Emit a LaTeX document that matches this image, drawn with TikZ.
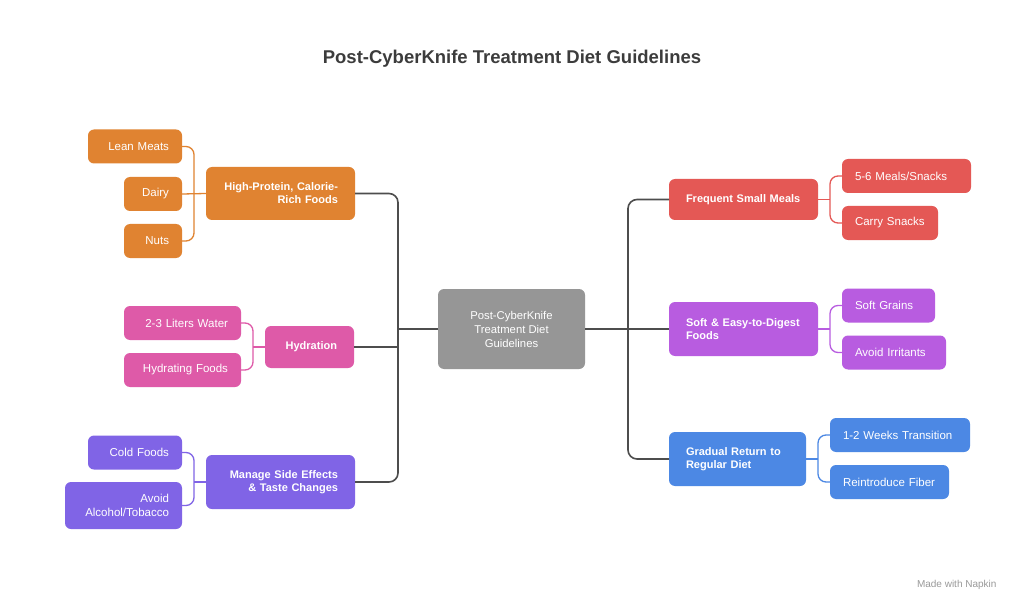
\documentclass[tikz,border=0pt]{standalone}
\usepackage{fontspec}
\setmainfont{Liberation Sans}
\usepackage{tikz}
\usetikzlibrary{positioning}

\definecolor{protein}{HTML}{E08331}
\definecolor{hydra}{HTML}{DE5AA8}
\definecolor{sidefx}{HTML}{8064E6}
\definecolor{meals}{HTML}{E45855}
\definecolor{soft}{HTML}{B85CE0}
\definecolor{gradual}{HTML}{4C88E4}
\definecolor{hubgray}{HTML}{969696}
\definecolor{trunkgray}{HTML}{4D4D4D}
\definecolor{titlegray}{HTML}{3C3C3C}

\begin{document}
\begin{tikzpicture}[x=1pt, y=-1pt]

\tikzstyle{box}=[rounded corners=6pt, text=white, outer sep=0pt, inner ysep=2pt]
\tikzstyle{topic}=[box, font=\bfseries\fontsize{11}{13}\selectfont, inner xsep=17pt]
\tikzstyle{leaf}=[box, font=\fontsize{11.5}{13.5}\selectfont, inner xsep=13pt, minimum height=34pt]
\tikzstyle{leftleaf}=[leaf, anchor=east, align=right]
\tikzstyle{rightleaf}=[leaf, anchor=west, align=left]
\tikzstyle{trunk}=[draw=trunkgray, line width=1.6pt, rounded corners=9pt]
\tikzstyle{twig}=[line width=1.3pt, rounded corners=8pt]

\useasboundingbox (0,0) rectangle (1024,612);
\fill[white] (0,0) rectangle (1024,612);

\node[font=\bfseries\fontsize{18.5}{22}\selectfont, text=titlegray] (title) at (512,59) {Post-CyberKnife Treatment Diet Guidelines};

\node[box, fill=hubgray, minimum width=147pt, minimum height=80pt, align=center, font=\fontsize{11.3}{14}\selectfont] (hub) at (511.5,329) {Post-CyberKnife\\Treatment Diet\\Guidelines};

% left topics
\node[topic, fill=protein, text width=115pt, align=right, minimum height=53pt] (protein) at (280.5,193.5) {High-Protein, Calorie-\\Rich Foods};
\node[topic, fill=hydra, text width=55pt, align=right, minimum height=42pt] (hydra) at (309.5,347) {Hydration};
\node[topic, fill=sidefx, text width=115pt, align=right, minimum height=54pt] (sidefx) at (280.5,482) {Manage Side Effects\\\& Taste Changes};

% right topics
\node[topic, fill=meals, text width=115pt, align=left, minimum height=41pt] (meals) at (743.5,199.5) {Frequent Small Meals};
\node[topic, fill=soft, text width=115pt, align=left, minimum height=54pt] (soft) at (743.5,329) {Soft \& Easy-to-Digest\\Foods};
\node[topic, fill=gradual, text width=103pt, align=left, minimum height=54pt] (gradual) at (737.5,459) {Gradual Return to\\Regular Diet};

% left leaves
\node[leftleaf, fill=protein, text width=68pt] (lean) at (182,146.5) {Lean Meats};
\node[leftleaf, fill=protein, text width=32pt] (dairy) at (182,194) {Dairy};
\node[leftleaf, fill=protein, text width=32pt] (nuts) at (182,241) {Nuts};
\node[leftleaf, fill=hydra, text width=91pt] (water) at (241,323) {2-3 Liters Water};
\node[leftleaf, fill=hydra, text width=91pt] (hydfood) at (241,370) {Hydrating Foods};
\node[leftleaf, fill=sidefx, text width=68pt] (cold) at (182,452.5) {Cold Foods};
\node[leftleaf, fill=sidefx, text width=91pt, minimum height=47pt] (alcohol) at (182,505.5) {Avoid\\Alcohol/Tobacco};

% right leaves
\node[rightleaf, fill=meals, text width=103pt] (fivesix) at (842,176) {5-6 Meals/Snacks};
\node[rightleaf, fill=meals, text width=70pt] (carry) at (842,223) {Carry Snacks};
\node[rightleaf, fill=soft, text width=67pt] (grains) at (842,305.5) {Soft Grains};
\node[rightleaf, fill=soft, text width=78pt] (irritants) at (842,352.5) {Avoid Irritants};
\node[rightleaf, fill=gradual, text width=114pt] (weeks) at (830,435) {1-2 Weeks Transition};
\node[rightleaf, fill=gradual, text width=93pt] (fiber) at (830,482) {Reintroduce Fiber};

\node[text=black!40, font=\fontsize{10}{12}\selectfont, anchor=east] (brand) at (1000,585) {Made with Napkin};

% trunks
\coordinate (lefttrunk) at (398,329);
\coordinate (righttrunk) at (628,329);
\draw[trunk] (protein.east) -| (lefttrunk) |- (sidefx.east);
\draw[trunk] (hydra.east) -- (hydra.east -| lefttrunk);
\draw[trunk] (hub.west) -- (lefttrunk);
\draw[trunk] (meals.west) -| (righttrunk) |- (gradual.west);
\draw[trunk] (hub.east) -- (soft.west);

% brackets
\draw[twig, protein] (lean.east) -| ([xshift=12pt]nuts.east) -- (nuts.east);
\draw[twig, protein] (dairy.east) -- (protein.west);
\draw[twig, hydra] (water.east) -| ([xshift=12pt]hydfood.east) -- (hydfood.east);
\draw[twig, hydra] (hydra.west) -- ++(-12,0);
\draw[twig, sidefx] (cold.east) -| ([xshift=12pt]alcohol.east) -- (alcohol.east);
\draw[twig, sidefx] (sidefx.west) -- ++(-12,0);
\draw[twig, meals] (fivesix.west) -| ([xshift=-12pt]carry.west) -- (carry.west);
\draw[twig, meals] (meals.east) -- ++(12,0);
\draw[twig, soft] (grains.west) -| ([xshift=-12pt]irritants.west) -- (irritants.west);
\draw[twig, soft] (soft.east) -- ++(12,0);
\draw[twig, gradual] (weeks.west) -| ([xshift=-12pt]fiber.west) -- (fiber.west);
\draw[twig, gradual] (gradual.east) -- ++(12,0);

\end{tikzpicture}
\end{document}
